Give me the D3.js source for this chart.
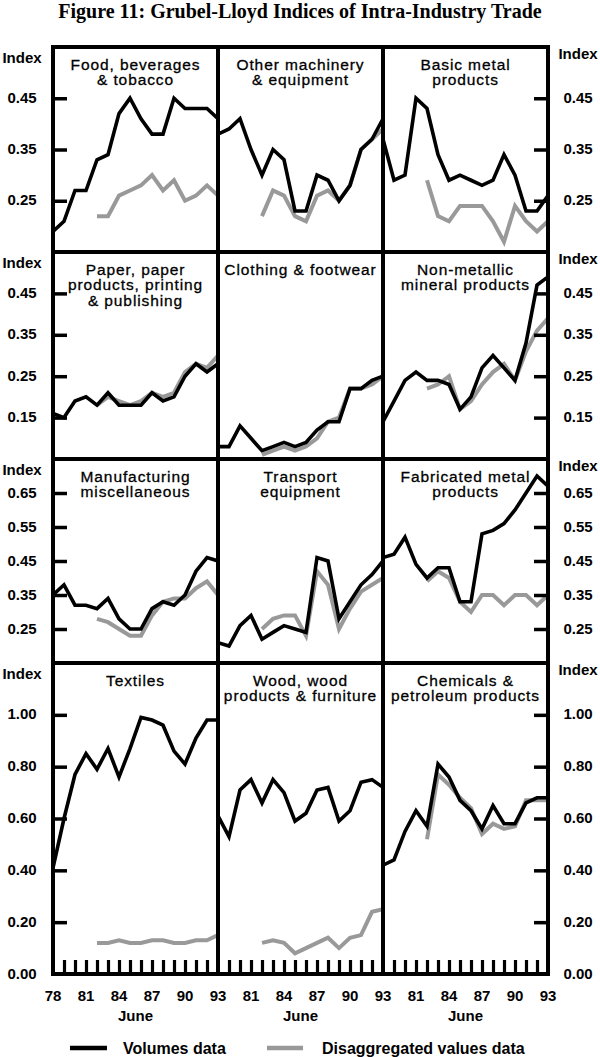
<!DOCTYPE html>
<html><head><meta charset="utf-8">
<script src="https://cdn.jsdelivr.net/npm/d3@7"></script>
<style>body{margin:0;background:#fff}svg{display:block}</style>
</head><body>
<script>
// ---------------- DATA ----------------
const years = [1978,1979,1980,1981,1982,1983,1984,1985,1986,1987,1988,1989,1990,1991,1992,1993];
const xLabelYears = [1978,1981,1984,1987,1990,1993];
const panelTitles = [
  ["Food, beverages","& tobacco"],
  ["Other machinery","& equipment"],
  ["Basic metal","products"],
  ["Paper, paper","products, printing","& publishing"],
  ["Clothing & footwear"],
  ["Non-metallic","mineral products"],
  ["Manufacturing","miscellaneous"],
  ["Transport","equipment"],
  ["Fabricated metal","products"],
  ["Textiles"],
  ["Wood, wood","products & furniture"],
  ["Chemicals &","petroleum products"]
];
const N = null;
const volumesFood      = [0.19,0.21,0.27,0.27,0.33,0.34,0.42,0.45,0.41,0.38,0.38,0.45,0.43,0.43,0.43,0.41];
const volumesMachinery = [0.38,0.39,0.41,0.35,0.30,0.35,0.33,0.23,0.23,0.30,0.29,0.25,0.28,0.35,0.37,0.41];
const volumesBasic     = [0.37,0.29,0.30,0.45,0.43,0.34,0.29,0.30,0.29,0.28,0.29,0.34,0.30,0.23,0.23,0.26];
const volumesPaper     = [0.16,0.15,0.19,0.20,0.18,0.21,0.18,0.18,0.18,0.21,0.19,0.20,0.25,0.28,0.26,0.28];
const volumesClothing  = [0.08,0.08,0.13,0.10,0.07,0.08,0.09,0.08,0.09,0.12,0.14,0.14,0.22,0.22,0.24,0.25];
const volumesNonMetal  = [0.14,0.19,0.24,0.26,0.24,0.24,0.23,0.17,0.20,0.27,0.30,0.27,0.24,0.33,0.47,0.49];
const volumesManuf     = [0.35,0.38,0.32,0.32,0.31,0.34,0.28,0.25,0.25,0.31,0.33,0.32,0.35,0.42,0.46,0.45];
const volumesTransport = [0.21,0.20,0.26,0.29,0.22,0.24,0.26,0.25,0.24,0.46,0.45,0.28,0.33,0.38,0.41,0.45];
const volumesFabric    = [0.46,0.47,0.52,0.44,0.40,0.43,0.43,0.33,0.33,0.53,0.54,0.56,0.60,0.65,0.70,0.67];
const volumesTextiles  = [0.41,0.60,0.77,0.85,0.79,0.87,0.76,0.87,0.99,0.98,0.96,0.86,0.81,0.91,0.98,0.98];
const volumesWood      = [0.61,0.53,0.71,0.75,0.66,0.75,0.70,0.59,0.62,0.71,0.72,0.59,0.63,0.74,0.75,0.72];
const volumesChem      = [0.42,0.44,0.55,0.63,0.57,0.81,0.76,0.67,0.63,0.56,0.65,0.58,0.58,0.66,0.68,0.68];

const disaggFood      = [N,N,N,N,0.22,0.22,0.26,0.27,0.28,0.30,0.27,0.29,0.25,0.26,0.28,0.26];
const disaggMachinery = [N,N,N,N,0.22,0.27,0.26,0.22,0.21,0.26,0.27,0.25,0.28,0.35,0.37,0.39];
const disaggBasic     = [N,N,N,N,0.29,0.22,0.21,0.24,0.24,0.24,0.21,0.17,0.24,0.21,0.19,0.21];
const disaggPaper     = [N,N,N,N,0.18,0.20,0.19,0.18,0.19,0.21,0.20,0.21,0.26,0.28,0.27,0.30];
const disaggClothing  = [N,N,N,N,0.06,0.07,0.08,0.07,0.08,0.10,0.14,0.15,0.22,0.22,0.23,0.25];
const disaggNonMetal  = [N,N,N,N,0.22,0.23,0.25,0.17,0.19,0.23,0.26,0.28,0.24,0.31,0.36,0.39];
const disaggManuf     = [N,N,N,N,0.28,0.27,0.25,0.23,0.23,0.29,0.33,0.34,0.34,0.37,0.39,0.35];
const disaggTransport = [N,N,N,N,0.25,0.28,0.29,0.29,0.23,0.42,0.38,0.25,0.31,0.36,0.38,0.40];
const disaggFabric    = [N,N,N,N,0.39,0.42,0.40,0.33,0.30,0.35,0.35,0.32,0.35,0.35,0.32,0.35];
const disaggTextiles  = [N,N,N,N,0.12,0.12,0.13,0.12,0.12,0.13,0.13,0.12,0.12,0.13,0.13,0.15];
const disaggWood      = [N,N,N,N,0.12,0.13,0.12,0.08,0.10,0.12,0.14,0.10,0.14,0.15,0.24,0.25];
const disaggChem      = [N,N,N,N,0.52,0.77,0.73,0.68,0.64,0.54,0.58,0.56,0.57,0.67,0.67,0.67];

const volumes = [volumesFood,volumesMachinery,volumesBasic,volumesPaper,volumesClothing,volumesNonMetal,
                 volumesManuf,volumesTransport,volumesFabric,volumesTextiles,volumesWood,volumesChem];
const disaggregated = [disaggFood,disaggMachinery,disaggBasic,disaggPaper,disaggClothing,disaggNonMetal,
                 disaggManuf,disaggTransport,disaggFabric,disaggTextiles,disaggWood,disaggChem];

const rowDomains = [[0.15,0.55],[0.05,0.55],[0.15,0.75],[0,1.2]];
const rowTicks = [[0.25,0.35,0.45],[0.15,0.25,0.35,0.45],[0.25,0.35,0.45,0.55,0.65],[0.2,0.4,0.6,0.8,1.0]];
const seriesNames = ["Volumes data","Disaggregated values data"];

// ---------------- LAYOUT ----------------
const W = 600, H = 1057;
const fL = 53, fR = 548, colW = (fR - fL) / 3;
const rowEdges = [47, 252, 459, 663, 974];
const SANS = "'Liberation Sans', Arial, sans-serif";
const BLACK = "#000", GRAY = "#999";

const svg = d3.select("body").append("svg").attr("width", W).attr("height", H);

svg.append("text").attr("x", 300).attr("y", 18)
  .attr("text-anchor","middle")
  .style("font-family","'Liberation Serif','Times New Roman',serif")
  .style("font-weight","bold").style("font-size","20px")
  .text("Figure 11: Grubel-Lloyd Indices of Intra-Industry Trade");

const defs = svg.append("defs");
const fmt = d3.format(".2f");

panelTitles.forEach((title, i) => {
  const r = Math.floor(i / 3), c = i % 3;
  const x0 = fL + c * colW, x1 = x0 + colW;
  const x = d3.scaleLinear().domain([years[0], years[years.length-1]]).range([x0, x1]);
  const y = d3.scaleLinear().domain(rowDomains[r]).range([rowEdges[r+1], rowEdges[r]]);
  const g = svg.append("g");
  defs.append("clipPath").attr("id","clip"+i).append("rect")
    .attr("x", x0).attr("y", rowEdges[r]).attr("width", colW).attr("height", rowEdges[r+1]-rowEdges[r]);
  const line = d3.line().defined(d => d[1] != null).x(d => x(d[0])).y(d => y(d[1]));
  const lg = g.append("g").attr("clip-path","url(#clip"+i+")");
  lg.append("path").datum(years.map((yr,j)=>[yr, disaggregated[i][j]]))
    .attr("d", line).attr("fill","none").attr("stroke",GRAY).attr("stroke-width",4)
    .attr("stroke-linejoin","miter");
  lg.append("path").datum(years.map((yr,j)=>[yr, volumes[i][j]]))
    .attr("d", line).attr("fill","none").attr("stroke",BLACK).attr("stroke-width",3.6)
    .attr("stroke-linejoin","miter");

  // panel title
  title.forEach((t, k) => {
    g.append("text").attr("x", (x0+x1)/2).attr("y", rowEdges[r] + 17 + k*15.5)
      .attr("text-anchor","middle").attr("dominant-baseline","central")
      .style("font-family",SANS).style("font-size","15.5px").style("letter-spacing","0.9px")
      .attr("stroke","#000").attr("stroke-width",0.3)
      .text(t);
  });

  // y axes on outer edges
  if (c === 0 || c === 2) {
    const left = c === 0;
    const ax = (left ? d3.axisRight(y) : d3.axisLeft(y))
      .tickValues(rowTicks[r]).tickSize(14).tickFormat("");
    const ag = g.append("g").attr("transform","translate("+(left?fL:fR)+",0)").call(ax);
    ag.select(".domain").remove();
    ag.selectAll("line").attr("stroke","#000").attr("stroke-width",3.5);
    const lx = left ? 22 : 578;
    const labels = rowTicks[r].slice();
    if (r === 3) labels.push(0);
    labels.forEach(v => {
      g.append("text").attr("x", lx).attr("y", y(v) - 1)
        .attr("text-anchor","middle").attr("dominant-baseline","central")
        .style("font-family",SANS).style("font-weight","bold").style("font-size","15px")
        .text(fmt(v));
    });
    g.append("text").attr("x", lx).attr("y", rowEdges[r] + (left ? 10 : 6))
      .attr("text-anchor","middle").attr("dominant-baseline","central")
      .style("font-family",SANS).style("font-weight","bold").style("font-size","15px")
      .text("Index");
  }

  // bottom axis ticks and labels
  if (r === 3) {
    const bx = d3.axisTop(x).tickValues(years.slice(1, -1)).tickSize(14).tickFormat("");
    const bg = g.append("g").attr("transform","translate(0,"+rowEdges[4]+")").call(bx);
    bg.select(".domain").remove();
    bg.selectAll("line").attr("stroke","#000").attr("stroke-width",3.2);
    xLabelYears.filter(yr => c === 0 || yr !== 1978).forEach(yr => {
      g.append("text").attr("x", x(yr)).attr("y", 995)
        .attr("text-anchor","middle").attr("dominant-baseline","central")
        .style("font-family",SANS).style("font-weight","bold").style("font-size","15px")
        .text(String(yr).slice(2));
    });
    g.append("text").attr("x", (x0+x1)/2).attr("y", 1015)
      .attr("text-anchor","middle").attr("dominant-baseline","central")
      .style("font-family",SANS).style("font-weight","bold").style("font-size","15px")
      .text("June");
  }
});

// frame and dividers
const fg = svg.append("g").attr("stroke","#000").attr("stroke-width",4).attr("fill","none");
fg.append("rect").attr("x",fL).attr("y",rowEdges[0]).attr("width",fR-fL).attr("height",rowEdges[4]-rowEdges[0]);
[1,2].forEach(k => fg.append("line").attr("x1",fL+k*colW).attr("x2",fL+k*colW).attr("y1",rowEdges[0]).attr("y2",rowEdges[4]));
[1,2,3].forEach(k => fg.append("line").attr("x1",fL).attr("x2",fR).attr("y1",rowEdges[k]).attr("y2",rowEdges[k]));

// legend
const legY = 1048;
const leg = [{x1:70,x2:107,tx:123,color:BLACK,w:4.5},{x1:267,x2:303,tx:322,color:GRAY,w:4.5}];
leg.forEach((l, i) => {
  svg.append("line").attr("x1",l.x1).attr("x2",l.x2).attr("y1",legY).attr("y2",legY)
    .attr("stroke",l.color).attr("stroke-width",l.w);
  svg.append("text").attr("x",l.tx).attr("y",legY).attr("dominant-baseline","central")
    .style("font-family",SANS).style("font-weight","bold").style("font-size","16px")
    .text(seriesNames[i]);
});
</script>
</body></html>
